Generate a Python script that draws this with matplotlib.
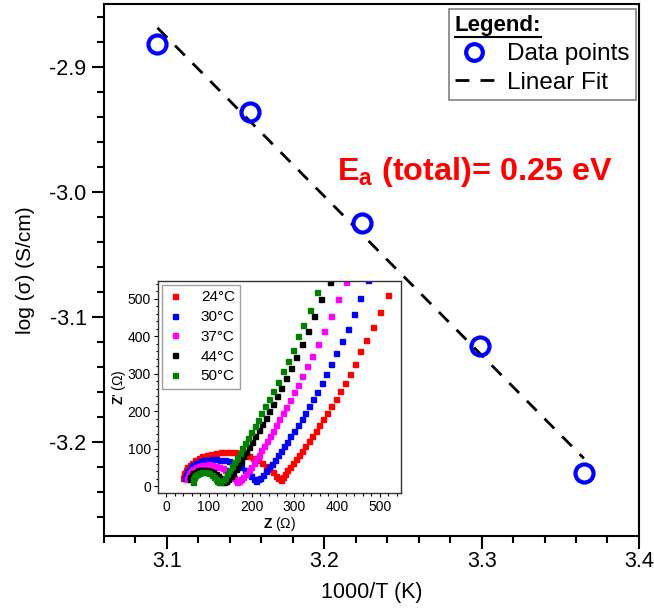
import numpy as np
import matplotlib
matplotlib.use('Agg')
import matplotlib.pyplot as plt
from matplotlib.ticker import MultipleLocator, FormatStrFormatter
from matplotlib.lines import Line2D

plt.rcParams['font.family'] = ['Liberation Sans', 'DejaVu Sans']
plt.rcParams['mathtext.fontset'] = 'custom'
plt.rcParams['mathtext.rm'] = 'Liberation Sans'
plt.rcParams['mathtext.bf'] = 'Liberation Sans:bold'

# Arrhenius data
inv_T = [3.094, 3.153, 3.224, 3.299, 3.365]
log_sigma = [-2.882, -2.936, -3.025, -3.123, -3.225]
fit_x = [3.094, 3.365]
fit_y = [-2.869, -3.213]

# inset Nyquist data (Z', Z'')
temps = ['24°C', '30°C', '37°C', '44°C', '50°C']
colors = ['#ff0000', '#0000ff', '#ff00ff', '#000000', '#008000']

z_re_24 = [40, 41, 43, 46, 50, 55, 61, 68, 76, 85, 95, 106, 117, 128, 139, 150, 161, 172, 183, 194, 204, 214, 224, 233, 242, 250, 257, 263, 268,
           269, 273, 278, 284, 290, 297, 304, 311, 318, 326, 334, 342, 350, 359, 368, 377, 387, 397, 407, 418, 430, 442, 454, 469, 485, 501, 519]
z_im_24 = [22, 29, 36, 43, 50, 57, 63, 69, 75, 80, 84, 87, 89, 90, 91, 91, 90, 88, 85, 81, 76, 70, 63, 55, 46, 37, 28, 21, 16,
           19, 25, 33, 42, 51, 61, 72, 83, 95, 107, 120, 134, 148, 163, 179, 196, 214, 233, 253, 275, 299, 326, 360, 389, 425, 464, 509]

z_re_30 = [45, 46, 49, 53, 58, 64, 71, 79, 88, 97, 107, 117, 127, 137, 147, 157, 166, 175, 184, 192, 199, 205, 210,
           215, 220, 226, 233, 240, 247, 254, 261, 268, 275, 283, 291, 299, 308, 317, 326, 335, 344, 354, 364, 375, 386, 398, 411, 426, 441, 455, 473]
z_im_30 = [22, 30, 37, 44, 51, 57, 62, 66, 69, 71, 72, 72, 71, 69, 66, 62, 57, 50, 42, 34, 26, 19, 15,
           18, 23, 31, 40, 50, 60, 71, 82, 94, 106, 119, 133, 147, 162, 178, 195, 213, 232, 252, 274, 298, 325, 355, 388, 420, 460, 503, 549]

z_re_37 = [50, 51, 54, 58, 63, 69, 76, 84, 92, 100, 108, 116, 124, 132, 139, 146, 152, 158, 163, 167,
           170, 175, 181, 187, 193, 199, 205, 211, 217, 223, 229, 236, 243, 250, 257, 265, 273, 281, 290, 299, 309, 319, 330, 342, 355, 369, 385, 402, 422]
z_im_37 = [20, 27, 34, 40, 45, 50, 53, 56, 57, 58, 57, 55, 52, 48, 43, 37, 30, 23, 16, 12,
           14, 18, 25, 33, 42, 52, 62, 73, 84, 96, 108, 121, 134, 148, 162, 178, 194, 211, 230, 250, 271, 294, 320, 348, 380, 415, 455, 498, 545]

z_re_44 = [56, 57, 60, 64, 69, 75, 82, 89, 96, 103, 110, 116, 122, 127, 131, 135,
           140, 145, 151, 157, 163, 169, 175, 181, 188, 195, 202, 209, 217, 225, 233, 242, 251, 260, 270, 281, 292, 305, 318, 332, 347, 363, 383]
z_im_44 = [18, 24, 30, 35, 39, 42, 43, 44, 43, 41, 38, 33, 27, 21, 15, 11,
           13, 19, 27, 36, 46, 57, 68, 80, 92, 105, 119, 134, 149, 165, 182, 200, 219, 240, 263, 288, 315, 345, 380, 415, 455, 498, 545]

z_re_50 = [62, 63, 65, 68, 72, 77, 83, 89, 95, 101, 107, 112, 116, 120, 123,
           127, 132, 137, 142, 148, 154, 160, 166, 172, 178, 185, 192, 199, 207, 215, 223, 232, 241, 251, 261, 273, 285, 296, 308, 320, 336, 354]
z_im_50 = [12, 18, 24, 29, 33, 36, 38, 38, 37, 34, 30, 25, 19, 14, 10,
           12, 16, 23, 32, 42, 53, 64, 76, 88, 101, 115, 129, 144, 160, 177, 194, 213, 233, 255, 279, 306, 333, 364, 400, 431, 471, 518]

z_re = [z_re_24, z_re_30, z_re_37, z_re_44, z_re_50]
z_im = [z_im_24, z_im_30, z_im_37, z_im_44, z_im_50]

fig = plt.figure(figsize=(6.54, 6.10), dpi=100)
ax = fig.add_axes([0.159, 0.1213, 0.818, 0.8721])

ax.plot(fit_x, fit_y, color='black', lw=2, ls=(0, (5, 4)), zorder=2)
ax.plot(inv_T, log_sigma, ls='none', marker='o', ms=13, mfc='none', mec='#0000ff', mew=3, zorder=3)

ax.set_xlim(3.06, 3.40)
ax.set_ylim(-3.275, -2.85)
ax.xaxis.set_major_locator(MultipleLocator(0.1))
ax.xaxis.set_minor_locator(MultipleLocator(0.02))
ax.yaxis.set_major_locator(MultipleLocator(0.1))
ax.yaxis.set_minor_locator(MultipleLocator(0.02))
ax.xaxis.set_major_formatter(FormatStrFormatter('%.1f'))
ax.yaxis.set_major_formatter(FormatStrFormatter('%.1f'))
ax.tick_params(which='major', direction='out', length=9, width=1.5, labelsize=15.5, top=False, right=False)
ax.tick_params(which='minor', direction='out', length=5, width=1.5, top=False, right=False)
ax.tick_params(axis='x', pad=2)
for s in ax.spines.values():
    s.set_linewidth(1.5)
ax.set_xlabel('1000/T (K)', fontsize=15.5, labelpad=7)
ax.set_ylabel('log (σ) (S/cm)', fontsize=15, labelpad=10)

# activation energy label, pixel coords of the figure
fig.text(337 / 654, 1 - 180 / 610, r'$\mathbf{E_a}$ (total)= 0.25 eV', color='#ff0000',
         fontsize=23.3, fontweight='bold', va='baseline', ha='left')

handles = [Line2D([], [], ls='none', marker='o', ms=12, mfc='none', mec='#0000ff', mew=3),
           Line2D([], [], color='black', lw=2, ls=(0, (5, 4)))]
leg = ax.legend(handles, ['Data points', 'Linear Fit'], loc='upper right', bbox_to_anchor=(0.9985, 0.995),
                title='Legend:', title_fontsize=16, fontsize=17.5,
                alignment='left', fancybox=False, edgecolor='#808080', framealpha=1,
                handlelength=1.6, handletextpad=0.55, borderpad=0.25, labelspacing=0.28,
                borderaxespad=0.1)
leg.get_title().set_fontweight('bold')
leg.get_frame().set_linewidth(1.2)

# inset
ins = fig.add_axes([0.2416, 0.1918, 0.3716, 0.3475])
for i in range(len(temps)):
    ins.plot(z_re[i], z_im[i], ls='none', marker='s', ms=3.6, color=colors[i], mec=colors[i], label=temps[i])
ins.set_xlim(-19, 550)
ins.set_ylim(-18, 547)
ins.xaxis.set_major_locator(MultipleLocator(100))
ins.xaxis.set_minor_locator(MultipleLocator(20))
ins.yaxis.set_major_locator(MultipleLocator(100))
ins.yaxis.set_minor_locator(MultipleLocator(20))
ins.tick_params(which='major', direction='out', length=3, width=0.8, labelsize=10, pad=2, top=False, right=False)
ins.tick_params(which='minor', direction='out', length=1.8, width=0.8, top=False, right=False)
for s in ins.spines.values():
    s.set_linewidth(1.0)
    s.set_color('#333333')
ins.set_xlabel(r"$\mathbf{Z}$ (Ω)", fontsize=10, labelpad=1)
ins.set_ylabel(r"$\mathbf{Z}$' (Ω)", fontsize=10, labelpad=0)
il = ins.legend(loc='upper left', fontsize=11, fancybox=False, edgecolor='#a0a0a0', framealpha=1,
                handlelength=1.0, handletextpad=1.2, borderpad=0.35, labelspacing=0.38, markerscale=1.0,
                borderaxespad=0.25)
il.get_frame().set_linewidth(1.0)

# underline the legend title
fig.canvas.draw()
bb = leg.get_title().get_window_extent()
fig.add_artist(Line2D([bb.x0 / 654, bb.x1 / 654], [(bb.y0 - 1) / 610] * 2, color='black', lw=1.5))

fig.savefig('out.png', dpi=100)
